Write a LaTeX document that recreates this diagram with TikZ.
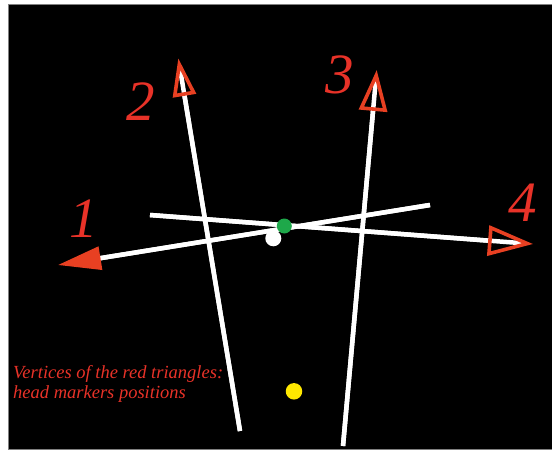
\documentclass[tikz,border=0pt]{standalone}
\usepackage{fontspec}
\setmainfont{Liberation Serif}
\usetikzlibrary{arrows.meta}
\definecolor{markred}{RGB}{232,64,34}
\definecolor{labred}{RGB}{232,50,40}
\definecolor{dotgreen}{RGB}{30,168,74}
\definecolor{dotyellow}{RGB}{255,232,0}

\begin{document}
\begin{tikzpicture}[x=1pt, y=-1pt,
    wline/.style={draw=white, line width=4.5pt},
    num/.style={text=labred, font=\itshape\fontsize{57}{57}\selectfont, inner sep=0pt},
    dot/.style={circle, inner sep=0pt, minimum size=#1},
    headopen/.style 2 args={-{Triangle[open, length=#1, width=#2, line width=3.6pt, color=markred]}},
    headfull/.style 2 args={-{Triangle[length=#1, width=#2, line width=3.6pt, color=markred, fill=markred]}}
  ]
    \useasboundingbox (0,0) rectangle (552,451);
    \fill[white] (0,0) rectangle (552,451);
    \draw[fill=black, draw=gray] (8,4) rectangle (553,449);
    % line ends
    \coordinate (s1) at (430,205);   \coordinate (t1) at (58,265);
    \coordinate (s2) at (240,431);   \coordinate (t2) at (178.3,58.3);
    \coordinate (s3) at (343,446);   \coordinate (t3) at (376.7,70);
    \coordinate (s4) at (150,215);   \coordinate (t4) at (533,244);
    \foreach \k in {1,2,3,4}
      \draw[wline, shorten >=9pt] (s\k) -- (t\k);
    \draw[wline, headfull={43pt}{23pt}] (s1) -- (t1);
    \draw[wline, headopen={38pt}{23pt}] (s2) -- (t2);
    \draw[wline, headopen={41pt}{28pt}] (s3) -- (t3);
    \draw[wline, headopen={45pt}{30pt}] (s4) -- (t4);
    % markers
    \node[dot=16pt, fill=white] (cw) at (273.3,238.3) {};
    \node[dot=15pt, fill=dotgreen] (cg) at (284.3,226) {};
    \node[dot=16.5pt, fill=dotyellow] (cy) at (294,391.3) {};
    % labels
    \node[num] (n1) at (84,219) {1};
    \node[num] (n2) at (141,102) {2};
    \node[num] (n3) at (340,75) {3};
    \node[num] (n4) at (523,203) {4};
    \node[anchor=north west, inner sep=0pt, align=left, text=labred,
      font=\itshape\fontsize{18.5}{20.5}\selectfont] (note) at (13,365)
      {Vertices of the red triangles:\\head markers positions};
  \end{tikzpicture}
\end{document}
